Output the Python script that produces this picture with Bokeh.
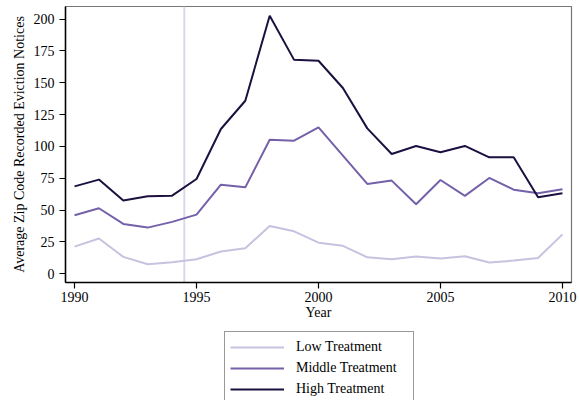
from bokeh.plotting import figure
from bokeh.layouts import column
from bokeh.models import Range1d, FixedTicker, Span, Legend, LegendItem
from bokeh.embed import file_html
from bokeh.resources import INLINE

# Average zip code recorded eviction notices
years = list(range(1990, 2011))
low = [21.4, 27.7, 13.3, 7.5, 9.1, 11.5, 17.5, 20.1, 37.6, 33.4, 24.5,
       22.0, 13.0, 11.5, 13.6, 12.0, 13.8, 8.9, 10.4, 12.5, 31.0]
middle = [46.0, 51.5, 39.2, 36.3, 40.8, 46.5, 70.0, 67.9, 105.3, 104.5, 115.0,
          92.8, 70.6, 73.2, 54.6, 73.7, 61.2, 75.3, 66.1, 63.2, 66.4]
high = [68.7, 74.0, 57.5, 60.9, 61.4, 74.5, 113.7, 135.9, 202.6, 168.0, 167.3,
        145.9, 114.2, 94.1, 100.4, 95.4, 100.4, 91.5, 91.5, 60.1, 63.2]
treatment_year = 1994.5
x_ticks = [1990, 1995, 2000, 2005, 2010]
y_ticks = [0, 25, 50, 75, 100, 125, 150, 175, 200]
labels = ["Low Treatment", "Middle Treatment", "High Treatment"]
colors = ["#c8c1df", "#7560aa", "#1c1040"]

FONT = "Liberation Serif"

p = figure(width=579, height=330, output_backend="svg", toolbar_location=None,
           x_range=Range1d(1989.63, 2010.37), y_range=Range1d(-6.8, 209.9),
           min_border_left=65, min_border_right=8, min_border_top=6, min_border_bottom=48,
           frame_width=506, frame_height=276)

p.grid.visible = False
p.outline_line_color = "#777777"
p.outline_line_width = 1.2

for ax in (p.xaxis[0], p.yaxis[0]):
    ax.axis_line_color = "black"
    ax.axis_line_width = 1.5
    ax.major_tick_line_color = "black"
    ax.major_tick_line_width = 1.2
    ax.major_tick_out = 6
    ax.major_tick_in = 0
    ax.minor_tick_line_color = None
    ax.major_label_text_font = FONT
    ax.major_label_text_font_size = "14px"
    ax.major_label_text_color = "black"
    ax.axis_label_text_font = FONT
    ax.axis_label_text_font_size = "14px"
    ax.axis_label_text_font_style = "normal"
    ax.axis_label_text_color = "black"

p.xaxis.ticker = FixedTicker(ticks=x_ticks)
p.yaxis.ticker = FixedTicker(ticks=y_ticks)
p.xaxis.axis_label = "Year"
p.yaxis.axis_label = "Average Zip Code Recorded Eviction Notices"
p.xaxis.major_label_standoff = 3
p.xaxis.axis_label_standoff = 0
p.yaxis.major_label_standoff = 5
p.yaxis.axis_label_standoff = 4

p.add_layout(Span(location=treatment_year, dimension="height", line_color="#dcd8ec",
                  line_width=2, level="underlay"))

for series, color in zip([low, middle, high], colors):
    p.line(years, series, line_color=color, line_width=2)

# legend strip under the chart: same series, drawn out of view, only the legend shows
q = figure(width=579, height=80, output_backend="svg", toolbar_location=None,
           x_range=Range1d(1989.63, 2010.37), y_range=Range1d(1000, 1001),
           x_axis_type=None, y_axis_type=None,
           min_border_left=0, min_border_right=0, min_border_top=0, min_border_bottom=0)
q.grid.visible = False
q.outline_line_color = None

items = []
for series, color, label in zip([low, middle, high], colors, labels):
    r = q.line(years, series, line_color=color, line_width=2)
    items.append(LegendItem(label=label, renderers=[r]))

legend = Legend(items=items, location=(159, 5), orientation="vertical")
legend.label_text_font = FONT
legend.label_text_font_size = "14px"
legend.label_text_color = "black"
legend.glyph_width = 54
legend.glyph_height = 20
legend.label_height = 20
legend.label_width = 112
legend.label_standoff = 12
legend.spacing = 1
legend.padding = 5
legend.margin = 0
legend.border_line_color = "#333333"
legend.border_line_width = 1.2
legend.background_fill_alpha = 1
q.add_layout(legend)

layout = column(p, q, spacing=0)

open("out.html", "w").write(file_html(layout, INLINE))
